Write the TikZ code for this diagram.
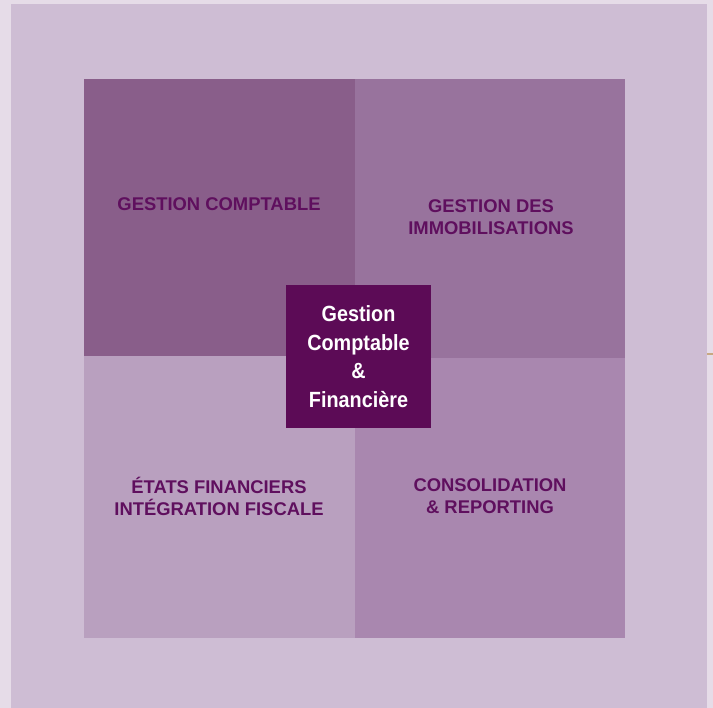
\documentclass[tikz,border=0pt]{standalone}
\usepackage{fontspec}
\setmainfont{Liberation Sans}
\newfontfamily\narrowface[FakeStretch=0.9]{Liberation Sans}
\definecolor{pageback}{HTML}{E6DCE8}
\definecolor{panelback}{HTML}{CEBDD4}
\definecolor{quadA}{HTML}{895E8A}
\definecolor{quadB}{HTML}{98739D}
\definecolor{quadC}{HTML}{B9A0BF}
\definecolor{quadD}{HTML}{A987AF}
\definecolor{centre}{HTML}{5C0B56}
\definecolor{labelink}{HTML}{5F0F5E}
\definecolor{tanline}{HTML}{C8A882}
\tikzset{
  quadlabel/.style={text=labelink,align=center,inner sep=0pt,
    font=\bfseries\fontsize{18.4}{22}\selectfont},
  centrebox/.style={fill=centre,text=white,align=center,inner sep=0pt,
    minimum width=145pt,minimum height=143pt,
    font=\narrowface\bfseries\fontsize{22}{28.5}\selectfont}
}

\begin{document}
\begin{tikzpicture}[x=1pt,y=-1pt]
\useasboundingbox (0,0) rectangle (713,708);
\fill [pageback] (0,0) rectangle (713,708);
\fill [panelback] (11,4) rectangle (707,708);
\coordinate (t1) at (707,354);
\coordinate (t2) at (713,354);
\draw [tanline,line width=1.2pt] (t1) -- (t2);
% the four quarters
\fill [quadA] (84,79) rectangle (355,356);
\fill [quadB] (355,79) rectangle (625,358);
\fill [quadC] (84,356) rectangle (355,638);
\fill [quadD] (355,358) rectangle (625,638);
\coordinate (q1) at (219,204);
\coordinate (q2) at (491,217);
\coordinate (q3) at (219,496);
\coordinate (q4) at (490,496);
\node [quadlabel] (gestcpt) at (q1) {GESTION COMPTABLE};
\node [quadlabel] (immob) at (q2) {GESTION DES\\IMMOBILISATIONS};
\node [quadlabel] (etats) at (q3) {ÉTATS FINANCIERS\\INTÉGRATION FISCALE};
\node [quadlabel] (conso) at (q4) {CONSOLIDATION\\\& REPORTING};
% centre
\coordinate (c0) at (358.5,356.5);
\node [centrebox] (coeur) at (c0)
    {Gestion\\Comptable\\\&\\Financière};
\end{tikzpicture}
\end{document}
